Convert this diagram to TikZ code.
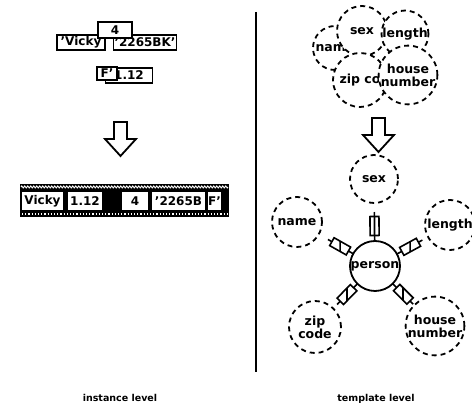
\documentclass[tikz,border=0pt]{standalone}
\usepackage{fontspec}
\setmainfont{DejaVu Sans}
\usetikzlibrary{calc, decorations.pathmorphing}

% link between the entity and one of its attributes
\newcommand{\attlink}[2]{%
  \draw[linkline] ($(#1)!25pt!(#2)$) -- ($(#1)!54pt!(#2)$);
  \path ($(#1)!31pt!(#2)$) -- ($(#1)!49pt!(#2)$) node[midway, sloped, linkbox] (#1-#2) {};
}

\begin{document}
\begin{tikzpicture}[x=1pt, y=-1pt,
  box/.style={draw, line width=1.6pt, fill=white, inner sep=1pt, minimum height=15pt, font=\bfseries\fontsize{12}{12}\selectfont},
  cell/.style={fill=white, inner sep=0pt, minimum height=18pt, font=\bfseries\fontsize{12}{12}\selectfont},
  attr/.style={circle, draw, dash pattern=on 5pt off 4pt, line width=1.8pt, fill=white, minimum size=50pt, inner sep=0pt, align=center, font=\bfseries\fontsize{12.5}{13}\selectfont},
  ent/.style={circle, draw, line width=1.8pt, fill=white, minimum size=50pt, inner sep=0pt, font=\bfseries\fontsize{12.5}{13}\selectfont},
  linkline/.style={line width=1.6pt},
  linkbox/.style={draw, line width=1.6pt, fill=white, minimum width=19pt, minimum height=9pt, inner sep=0pt,
    path picture={\draw[line width=1.6pt] (path picture bounding box.north) -- (path picture bounding box.south);}},
  caption/.style={anchor=base, font=\bfseries\fontsize{9.5}{10}\selectfont},
  pics/downarrow/.style={code={
    \draw[line width=1.8pt, fill=white, line join=miter]
      (-6.5,0) -- (6.5,0) -- (6.5,17) -- (15.5,17) -- (0,34) -- (-15.5,17) -- (-6.5,17) -- cycle;}}
]
\useasboundingbox (0,0) rectangle (472,419);

% scattered values (instance level)
\node[box, minimum width=47pt] (valnum) at (129,75.5) {1.12};
\node[box, minimum width=20pt, minimum height=13pt] (valsex) at (107,73.5) {F'};
\node[box, minimum width=48pt] (valname) at (81,42.5) {'Vicky};
\node[box] (valzip) at (145,42.5) {'2265BK'};
\node[box, minimum width=34pt, minimum height=16pt] (valhouse) at (115,30) {4};

\pic at (120.5,122) {downarrow};

% the assembled record
\fill (20,184) rectangle (229,217);
\draw[white, line width=0.9pt, decorate, decoration={zigzag, amplitude=1pt, segment length=3pt}] (21,187) -- (228,187);
\draw[white, line width=1.2pt, dash pattern=on 1.2pt off 2pt] (22,214) -- (227,214);
\node[cell, minimum width=41pt] (recname) at (42.5,201) {Vicky};
\node[cell, minimum width=34pt] (recnum) at (85,201) {1.12};
\node[cell, minimum width=26pt] (rechouse) at (135,201) {4};
\node[cell, minimum width=53pt] (reczip) at (178.5,201) {'2265B};
\node[cell, minimum width=13pt] (recsex) at (214.5,201) {F'};

% divider
\draw[line width=2pt] (256,12) -- (256,372);

% loose attributes (template level)
\node[attr, minimum size=44pt] (cname) at (335,48) {name};
\node[attr] (csex) at (362,31) {sex};
\node[attr, minimum size=46pt] (clength) at (405,34) {length};
\node[attr, minimum size=54pt] (czip) at (360,80) {zip co};
\node[attr] (chouse) at (408,75) {house\\number};

\pic at (378.5,118) {downarrow};

% entity with its attributes
\node[ent] (person) at (375,266) {person};
\node[attr, minimum size=48pt] (sex) at (374,179) {sex};
\node[attr] (name) at (297,222) {name};
\node[attr] (length) at (450,225) {length};
\node[attr, minimum size=52pt] (zip) at (315,327) {zip\\code};
\node[attr, minimum size=52pt] (house) at (435,326) {house\\number};

\attlink{person}{sex}
\attlink{person}{name}
\attlink{person}{length}
\attlink{person}{zip}
\attlink{person}{house}

% level captions
\node[caption] (inst) at (120,402) {instance level};
\node[caption] (tmpl) at (376,402) {template level};

\end{tikzpicture}
\end{document}
